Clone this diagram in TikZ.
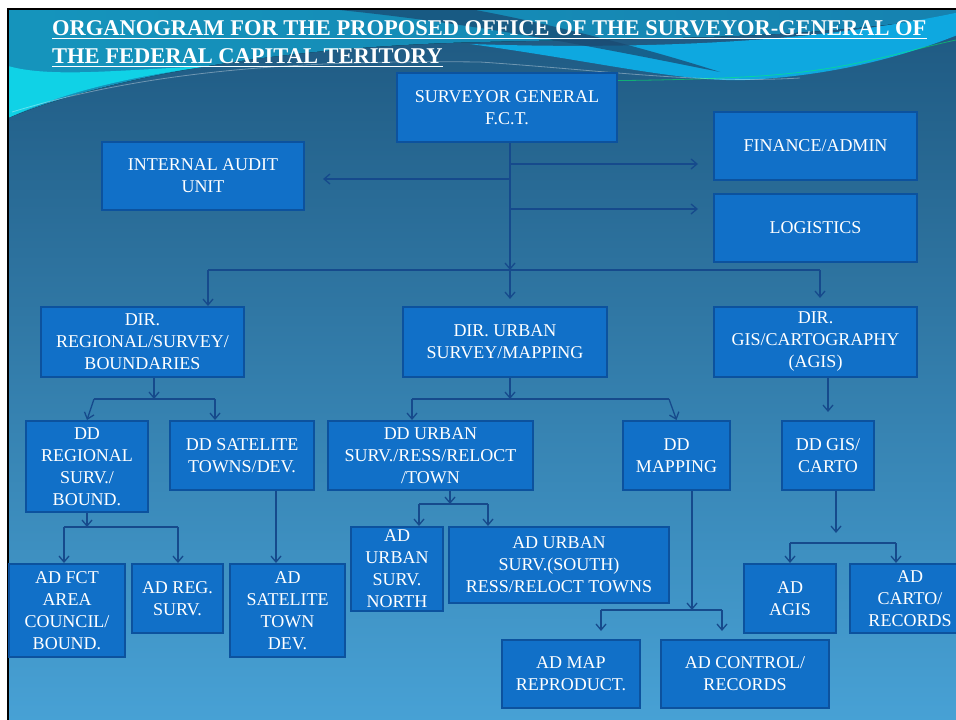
\documentclass[tikz,border=0pt]{standalone}
\usepackage{fontspec}
\setmainfont{Liberation Serif}
\usetikzlibrary{arrows.meta}
\definecolor{boxfill}{RGB}{17,112,200}
\definecolor{boxline}{RGB}{12,82,158}
\definecolor{linkblue}{RGB}{22,74,140}
\definecolor{bgtop}{RGB}{30,88,128}
\definecolor{bgmid}{RGB}{46,126,178}
\definecolor{bgbot}{RGB}{72,162,214}
\definecolor{wavecyan}{RGB}{16,222,238}
\definecolor{waveteal}{RGB}{22,130,176}
\definecolor{waveblue}{RGB}{14,168,224}
\definecolor{wavedark}{RGB}{26,74,114}
\tikzset{
  unit/.style={draw=boxline,fill=boxfill,line width=2pt,text=white,align=center,
    inner sep=0pt,font=\fontsize{18}{22}\selectfont},
  link/.style={draw=linkblue,line width=1.3pt},
  arr/.style={link,-{Straight Barb[length=6pt,width=10pt]}},
  headline/.style={text=white,inner sep=0pt,anchor=base west,
    font=\bfseries\fontsize{22.5}{27}\selectfont}
}

\begin{document}
\begin{tikzpicture}[x=1pt,y=-1pt]
  \clip (0,0) rectangle (956,720);
  \fill[white] (0,0) rectangle (956,720);
  %% Slide background
  \shade[top color=bgtop,middle color=bgmid,bottom color=bgbot]
    (8,9) rectangle (970,730);
  %% Wave at the top
  \fill[left color=waveteal!80!wavecyan,right color=waveteal]
    (8,9) -- (8,118) .. controls (120,72) and (300,46) .. (480,42)
    .. controls (640,38) and (820,40) .. (960,14) -- (960,9) -- cycle;
  \fill[wavecyan,opacity=0.85]
    (8,118) .. controls (60,94) and (120,78) .. (210,66)
    .. controls (120,70) and (50,78) .. (8,66) -- cycle;
  \fill[waveblue]
    (470,44) .. controls (600,62) and (680,82) .. (745,80)
    .. controls (830,76) and (900,58) .. (960,34) -- (960,12)
    .. controls (820,42) and (650,50) .. (470,44) -- cycle;
  \fill[wavedark,opacity=0.75]
    (330,9) .. controls (480,24) and (600,48) .. (720,72)
    .. controls (620,40) and (520,18) .. (470,9) -- cycle;
  \draw[white,opacity=0.35,line width=0.8pt]
    (12,112) .. controls (150,70) and (300,60) .. (480,62)
    .. controls (600,70) and (700,84) .. (800,78);
  \draw[green!60!cyan,opacity=0.5,line width=0.8pt]
    (480,80) .. controls (600,82) and (700,80) .. (760,76)
    .. controls (850,70) and (900,52) .. (956,40);
  \draw[black,line width=2.5pt] (8,720) -- (8,9) -- (956,9);

  %% Title
  \node[headline] (t1) at (52,35)
    {ORGANOGRAM FOR THE PROPOSED OFFICE OF THE SURVEYOR-GENERAL OF};
  \node[headline] (t2) at (52,63) {THE FEDERAL CAPITAL TERITORY};
  \draw[white,line width=1.6pt] ([yshift=-3.5pt]t1.base west) -- ([yshift=-3.5pt]t1.base east);
  \draw[white,line width=1.6pt] ([yshift=-3.5pt]t2.base west) -- ([yshift=-3.5pt]t2.base east);

  %% Boxes
  \node[unit,minimum width=220pt,minimum height=69pt] (sg) at (507,107.5) {SURVEYOR GENERAL\\F.C.T.};
  \node[unit,minimum width=202pt,minimum height=68pt] (audit) at (203,176) {INTERNAL AUDIT\\UNIT};
  \node[unit,minimum width=203pt,minimum height=68pt] (fin) at (815.5,146) {FINANCE/ADMIN};
  \node[unit,minimum width=203pt,minimum height=68pt] (logi) at (815.5,228) {LOGISTICS};
  \node[unit,minimum width=203pt,minimum height=70pt] (dirR) at (142.5,342) {DIR.\\REGIONAL/SURVEY/\\BOUNDARIES};
  \node[unit,minimum width=204pt,minimum height=70pt] (dirU) at (505,342) {DIR. URBAN\\SURVEY/MAPPING};
  \node[unit,minimum width=203pt,minimum height=70pt] (dirG) at (815.5,342) {DIR.\\GIS/CARTOGRAPHY\\(AGIS)};
  \node[unit,minimum width=122pt,minimum height=91pt] (ddR) at (87,466.5) {DD\\REGIONAL\\SURV./\\BOUND.};
  \node[unit,minimum width=144pt,minimum height=69pt] (ddS) at (242,455.5) {DD SATELITE\\TOWNS/DEV.};
  \node[unit,minimum width=205pt,minimum height=69pt] (ddU) at (430.5,455.5) {DD URBAN\\SURV./RESS/RELOCT\\/TOWN};
  \node[unit,minimum width=107pt,minimum height=69pt] (ddM) at (676.5,455.5) {DD\\MAPPING};
  \node[unit,minimum width=92pt,minimum height=69pt] (ddG) at (828,455.5) {DD GIS/\\CARTO};
  \node[unit,minimum width=116pt,minimum height=93pt] (adF) at (67,610.5) {AD FCT\\AREA\\COUNCIL/\\BOUND.};
  \node[unit,minimum width=91pt,minimum height=69pt] (adR) at (177.5,598.5) {AD REG.\\SURV.};
  \node[unit,minimum width=115pt,minimum height=93pt] (adS) at (287.5,610.5) {AD\\SATELITE\\TOWN\\DEV.};
  \node[unit,minimum width=92pt,minimum height=84pt] (adN) at (397,569) {AD\\URBAN\\SURV.\\NORTH};
  \node[unit,minimum width=220pt,minimum height=76pt] (adSo) at (559,565) {AD URBAN\\SURV.(SOUTH)\\RESS/RELOCT TOWNS};
  \node[unit,minimum width=138pt,minimum height=68pt] (adMap) at (571,674) {AD MAP\\REPRODUCT.};
  \node[unit,minimum width=168pt,minimum height=68pt] (adCtl) at (745,674) {AD CONTROL/\\RECORDS};
  \node[unit,minimum width=92pt,minimum height=69pt] (adAgis) at (790,598.5) {AD\\AGIS};
  \node[unit,minimum width=120pt,minimum height=69pt] (adCarto) at (910,598.5) {AD\\CARTO/\\RECORDS};

  %% Surveyor general trunk
  \coordinate (t0) at (510,270);
  \coordinate (ja) at (510,179);
  \coordinate (jf) at (510,164);
  \coordinate (jl) at (510,209);
  \draw[arr] (sg.south -| t0) -- (t0);
  \draw[arr,shorten >=18pt] (ja) -- (ja -| audit.east);
  \draw[arr,shorten >=15pt] (jf) -- (jf -| fin.west);
  \draw[arr,shorten >=15pt] (jl) -- (jl -| logi.west);
  \draw[link] (208,270) -- (820,270);
  \draw[arr] (208,270) -- (208,270 |- dirR.north);
  \draw[arr,shorten >=7pt] (t0) -- (t0 |- dirU.north);
  \draw[arr,shorten >=8pt] (820,270) -- (820,270 |- dirG.north);

  %% Regional
  \draw[arr] (154,0 |- dirR.south) -- (154,399);
  \draw[link] (94,399) -- (215,399);
  \draw[arr] (94,399) -- (ddR.north);
  \draw[arr] (215,399) -- (215,399 |- ddS.north);
  \draw[arr] (ddR.south) -- (87,527);
  \draw[link] (64,527) -- (178,527);
  \draw[arr] (64,527) -- (64,527 |- adF.north);
  \draw[arr] (178,527) -- (178,527 |- adR.north);
  \draw[arr] (276,0 |- ddS.south) -- (276,0 |- adS.north);

  %% Urban
  \draw[arr] (510,0 |- dirU.south) -- (510,399);
  \draw[link] (412,399) -- (669,399);
  \draw[arr] (412,399) -- (412,399 |- ddU.north);
  \draw[arr] (669,399) -- (ddM.north);
  \draw[arr] (450,0 |- ddU.south) -- (450,504);
  \draw[link] (419,504) -- (488,504);
  \draw[arr] (419,504) -- (419,504 |- adN.north);
  \draw[arr] (488,504) -- (488,504 |- adSo.north);
  \draw[arr] (692,0 |- ddM.south) -- (692,610);
  \draw[link] (601,610) -- (722,610);
  \draw[arr,shorten >=8pt] (601,610) -- (601,610 |- adMap.north);
  \draw[arr,shorten >=8pt] (722,610) -- (722,610 |- adCtl.north);

  %% GIS
  \draw[arr,shorten >=8pt] (dirG.south -| ddG) -- (ddG.north);
  \draw[arr] (836,0 |- ddG.south) -- (836,533);
  \draw[link] (790,543) -- (896,543);
  \draw[arr] (790,543) -- (790,543 |- adAgis.north);
  \draw[arr] (896,543) -- (896,543 |- adCarto.north);
\end{tikzpicture}
\end{document}
